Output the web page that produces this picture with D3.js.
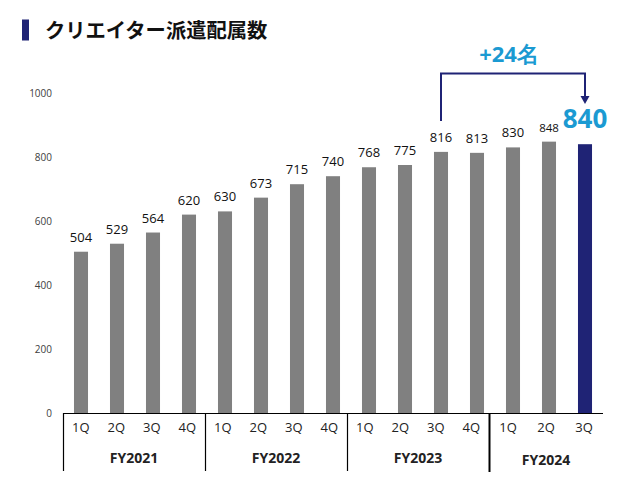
<!DOCTYPE html>
<html><head><meta charset="utf-8">
<script src="https://cdn.jsdelivr.net/npm/d3@7"></script>
<style>
html,body{margin:0;padding:0;background:#fff;}
svg{display:block;}
</style></head>
<body>
<svg id="c" width="632" height="500"></svg>
<script>
const title = "クリエイター派遣配属数";
const categories = ["FY2021-1Q","FY2021-2Q","FY2021-3Q","FY2021-4Q","FY2022-1Q","FY2022-2Q","FY2022-3Q","FY2022-4Q","FY2023-1Q","FY2023-2Q","FY2023-3Q","FY2023-4Q","FY2024-1Q","FY2024-2Q","FY2024-3Q"];
const quarters = ["1Q","2Q","3Q","4Q","1Q","2Q","3Q","4Q","1Q","2Q","3Q","4Q","1Q","2Q","3Q"];
const years = ["FY2021","FY2022","FY2023","FY2024"];
const yearOf = ["FY2021","FY2021","FY2021","FY2021","FY2022","FY2022","FY2022","FY2022","FY2023","FY2023","FY2023","FY2023","FY2024","FY2024","FY2024"];
const values = [504,529,564,620,630,673,715,740,768,775,816,813,830,848,840];
const yTicks = [0,200,400,600,800,1000];
const diffLabel = "+24名";

const svg = d3.select("#c");
const navy = "#1F2375", blue = "#1B9AD2", gray = "#808080";
const latin = "'Segoe UI','Open Sans','Noto Sans',sans-serif";

// title
svg.append("rect").attr("x",22).attr("y",19.5).attr("width",7).attr("height",21).attr("fill",navy);
svg.append("text").attr("x",45).attr("y",38).text(title)
  .attr("font-family","'Noto Sans CJK JP',sans-serif").attr("font-weight",700)
  .attr("font-size",20.3).attr("fill","#111");

const x0 = 63, x1 = 603, yBase = 413, yTop = 93;
const x = d3.scaleBand().domain(categories).range([x0,x1]).paddingInner(0.61).paddingOuter(0.305);
const y = d3.scaleLinear().domain([0,1000]).range([yBase,yTop]);

// label axis (category axis drawn with slightly different spacing, as in the reference)
const splitX = 489;
const lx1 = d3.scaleBand().domain(categories.slice(0,12)).range([x0,splitX]);
const lx2 = d3.scaleBand().domain(categories.slice(12)).range([splitX,x1]);
const inFirst = c => lx1.domain().includes(c);
const lx = c => (inFirst(c) ? lx1(c)+lx1.bandwidth()/2 : lx2(c)+lx2.bandwidth()/2);

// y axis labels
const yAxis = d3.axisLeft(y).tickValues(yTicks).tickSize(0).tickPadding(0).tickFormat(d3.format("d"));
const ya = svg.append("g").attr("transform",`translate(52,0)`).call(yAxis);
ya.select(".domain").remove();
ya.selectAll("text").attr("font-family",latin).attr("font-size",10).attr("fill","#404040");

// bars
const last = categories.length-1;
svg.append("g").selectAll("rect").data(categories).join("rect")
  .attr("x",c=>x(c)).attr("width",x.bandwidth())
  .attr("y",(c,i)=>y(values[i])).attr("height",(c,i)=>yBase-y(values[i]))
  .attr("fill",(c,i)=>i===last?navy:gray);

// value labels
svg.append("g").selectAll("text").data(categories.slice(0,last)).join("text")
  .attr("x",c=>x(c)+x.bandwidth()/2).attr("y",(c,i)=>y(values[i])-10)
  .attr("text-anchor","middle").attr("font-family",latin)
  .attr("font-size",(c,i)=>i===last-1?11.5:13).attr("fill","#111")
  .text((c,i)=>values[i]);

// highlight value
const cx = c => x(c)+x.bandwidth()/2;
svg.append("text").attr("x",cx(categories[last])).attr("y",y(values[last])-16)
  .attr("text-anchor","middle").attr("font-family",latin).attr("font-weight",700)
  .attr("font-size",26).attr("fill",blue).text(values[last]);

// bracket
const from = categories[10], to = categories[last];
const bTop = 73.5;
svg.append("path")
  .attr("d",`M${cx(from)},${y(values[10])-31}V${bTop}H${cx(to)}V${97}`)
  .attr("fill","none").attr("stroke",navy).attr("stroke-width",2);
svg.append("path")
  .attr("d",`M${cx(to)-4.5},${96}L${cx(to)+4.5},${96}L${cx(to)},${104}Z`)
  .attr("fill",navy);
svg.append("text").attr("x",(cx(from)+cx(to))/2-4).attr("y",62)
  .attr("text-anchor","middle").attr("font-family",latin).attr("font-weight",700)
  .attr("font-size",22).attr("fill",blue).text(diffLabel);

// category axis
svg.append("line").attr("x1",x0).attr("x2",x1).attr("y1",yBase+0.5).attr("y2",yBase+0.5)
  .attr("stroke","#000").attr("stroke-width",1.2);
svg.append("g").selectAll("text").data(categories).join("text")
  .attr("x",c=>lx(c)).attr("y",432)
  .attr("text-anchor","middle").attr("font-family",latin).attr("font-size",13).attr("fill","#222")
  .text((c,i)=>quarters[i]);

// year groups
const bandStart = c => inFirst(c) ? lx1(c) : lx2(c);
const bandEnd = c => inFirst(c) ? lx1(c)+lx1.bandwidth() : lx2(c)+lx2.bandwidth();
const groupStart = yr => bandStart(categories[yearOf.indexOf(yr)]);
const groupEnd = yr => bandEnd(categories[yearOf.lastIndexOf(yr)]);
svg.append("g").selectAll("line").data(years).join("line")
  .attr("x1",d=>groupStart(d)+0.5).attr("x2",d=>groupStart(d)+0.5)
  .attr("y1",yBase).attr("y2",(d,i)=>i===3?472:471)
  .attr("stroke","#000").attr("stroke-width",(d,i)=>i===3?2:1.2);
svg.append("g").selectAll("text").data(years).join("text")
  .attr("x",d=>(groupStart(d)+groupEnd(d))/2).attr("y",(d,i)=>i===3?465:463)
  .attr("text-anchor","middle").attr("font-family",latin).attr("font-weight",700)
  .attr("font-size",14).attr("fill","#222").text(d=>d);
</script>
</body></html>
